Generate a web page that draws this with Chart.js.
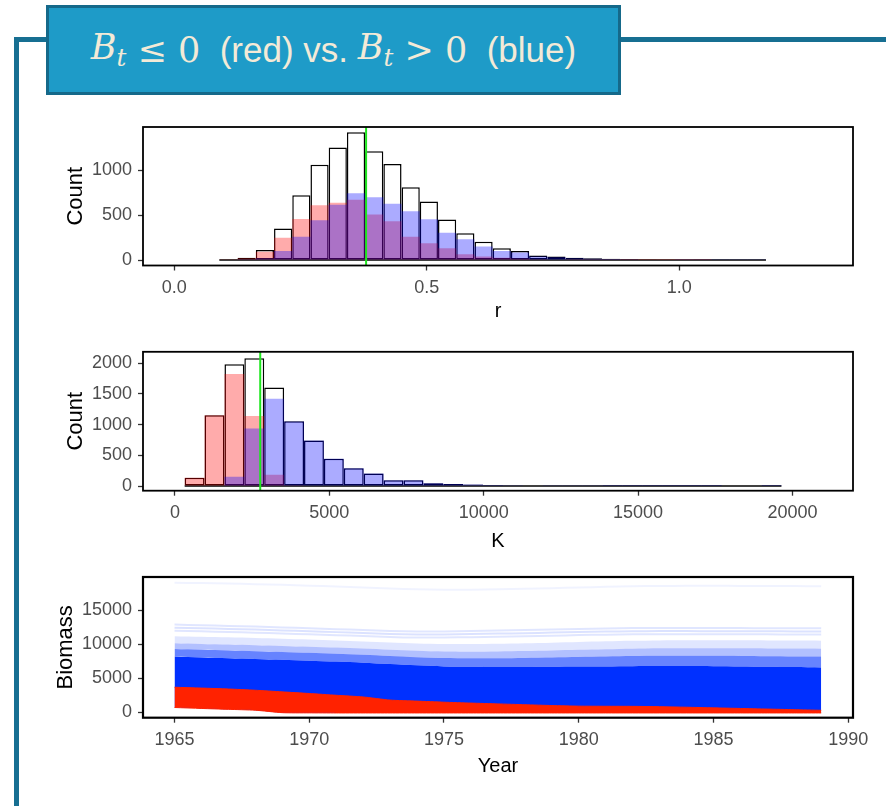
<!DOCTYPE html>
<html>
<head>
<meta charset="utf-8">
<script src="https://cdn.jsdelivr.net/npm/chart.js@4.4.1/dist/chart.umd.min.js"></script>
<style>
  body { margin: 0; width: 886px; height: 806px; background: #fff; position: relative; overflow: hidden;
         font-family: "Liberation Sans", Arial, sans-serif; }
  .frame-v { position: absolute; left: 14px; top: 37px; width: 5px; height: 790px; background: #176f92; }
  .frame-h { position: absolute; left: 14px; top: 37px; width: 872px; height: 5px; background: #176f92; }
  #titlebox { position: absolute; left: 46px; top: 5px; width: 569px; height: 84px; background: #1e9bc8;
              border: 3px solid #15698a; color: #f3ead7; font-size: 35px; display: flex;
              align-items: center; justify-content: center; white-space: pre; }
  .m { font-family: "DejaVu Serif", serif; font-style: italic; }
  .s { font-family: "DejaVu Serif", serif; }
  sub { font-size: 0.7em; vertical-align: -0.3em; }
  canvas { position: absolute; left: 0; }
</style>
</head>
<body>
<div class="frame-v"></div>
<div class="frame-h"></div>
<div id="titlebox"><span class="m">B<sub>t</sub></span><span class="s"> ≤ 0</span>  (red) vs. <span class="m">B<sub>t</sub></span><span class="s"> &gt; 0</span>  (blue)</div>
<canvas id="c1" width="886" height="220" style="top:110px"></canvas>
<canvas id="c2" width="886" height="220" style="top:335px"></canvas>
<canvas id="c3" width="886" height="246" style="top:560px"></canvas>
<script>
// r histogram (bin midpoints, counts)
const rBins = [0.1072, 0.1433, 0.1794, 0.2155, 0.2516, 0.2876, 0.3237, 0.3598, 0.3959, 0.4320,
               0.4681, 0.5041, 0.5402, 0.5763, 0.6124, 0.6485, 0.6846, 0.7206, 0.7567, 0.7928,
               0.8289, 0.8650, 0.9011, 0.9371, 0.9732, 1.0093, 1.0454, 1.0815, 1.1176, 1.1536];
const rTotal = [5, 25, 113, 351, 721, 1058, 1249, 1421, 1209, 1066, 809, 652, 450, 297, 205,
                132, 102, 51, 40, 25, 20, 15, 11, 9, 8, 6, 5, 4, 4, 3];
const rRed = [5, 20, 93, 249, 457, 608, 637, 670, 505, 432, 260, 187, 132, 66, 40,
              25, 18, 10, 8, 5, 4, 3, 2, 2, 1, 1, 1, 0, 0, 0];
const rBlue = [0, 5, 20, 102, 260, 443, 615, 743, 699, 626, 542, 454, 303, 231, 150,
               102, 84, 41, 32, 20, 16, 12, 9, 7, 7, 5, 4, 4, 4, 3];
const rMark = 0.3798;
const rTicks = [0, 0.5, 1.0];
const rTickLabels = ["0.0", "0.5", "1.0"];
const rCountTicks = [0, 500, 1000];

// K histogram
const kBins = [636, 1280, 1925, 2569, 3213, 3858, 4502, 5146, 5791, 6435,
               7079, 7724, 8368, 9012, 9656, 10301, 10945, 11589, 12234, 12878,
               13522, 14167, 14811, 15455, 16099, 16744, 17388, 18032, 18677, 19321];
const kTotal = [135, 1153, 1983, 2080, 1603, 1056, 740, 445, 290, 204, 97, 95, 48, 32, 25,
                18, 12, 10, 6, 5, 4, 3, 2, 2, 1, 1, 1, 0, 0, 1];
const kRed = [135, 1153, 1823, 1142, 183, 5, 0, 0, 0, 0, 0, 0, 0, 0, 0,
              0, 0, 0, 0, 0, 0, 0, 0, 0, 0, 0, 0, 0, 0, 0];
const kBlue = [0, 0, 151, 939, 1421, 1051, 740, 445, 290, 204, 97, 95, 48, 32, 25,
               18, 12, 10, 6, 5, 4, 3, 2, 2, 1, 1, 1, 0, 0, 1];
const kMark = 2762;
const kTicks = [0, 5000, 10000, 15000, 20000];
const kCountTicks = [0, 500, 1000, 1500, 2000];

// biomass trajectories (envelopes and a few single runs)
const years = [1965, 1966, 1967, 1968, 1969, 1970, 1971, 1972, 1973, 1974, 1975, 1976, 1977,
               1978, 1979, 1980, 1981, 1982, 1983, 1984, 1985, 1986, 1987, 1988, 1989];
const redLow = [700, 560, 430, 300, -60, -90, -100, -100, -100, -100, -100, -100, -100,
                -100, -100, -100, -100, -100, -100, -100, -100, -100, -100, -100, -100];
const redHigh = [3680, 3560, 3420, 3240, 3000, 2760, 2500, 2250, 1790, 1640, 1480, 1350, 1230,
                 1110, 990, 900, 880, 870, 820, 740, 650, 560, 470, 380, 290];
const blueSolid = [8150, 8050, 7950, 7840, 7720, 7590, 7450, 7300, 7100, 6900, 6750, 6680, 6650,
                   6660, 6690, 6720, 6750, 6780, 6790, 6790, 6780, 6750, 6700, 6650, 6600];
const blueMid = [9300, 9200, 9100, 8990, 8870, 8740, 8600, 8450, 8270, 8100, 7980, 7950, 7960,
                 8000, 8060, 8130, 8200, 8260, 8300, 8310, 8300, 8280, 8250, 8220, 8200];
const blueLight = [10150, 10060, 9970, 9870, 9760, 9640, 9510, 9370, 9200, 9040, 8930, 8920, 8950,
                   9010, 9090, 9180, 9270, 9350, 9400, 9420, 9420, 9410, 9390, 9370, 9350];
const bluePale = [11200, 11110, 11020, 10920, 10810, 10690, 10560, 10420, 10260, 10120, 10040, 10040, 10080,
                  10150, 10240, 10340, 10440, 10520, 10570, 10590, 10590, 10580, 10570, 10550, 10530];
const blueRunA = [12900, 12800, 12700, 12600, 12480, 12360, 12230, 12100, 11950, 11880, 11900, 11960, 12030,
                  12100, 12180, 12260, 12330, 12380, 12400, 12400, 12390, 12380, 12370, 12360, 12350];
const blueRunB = [12450, 12360, 12260, 12160, 12040, 11920, 11790, 11660, 11510, 11440, 11450, 11500, 11570,
                  11640, 11720, 11800, 11870, 11920, 11940, 11940, 11930, 11920, 11910, 11900, 11890];
const blueRunC = [12000, 11910, 11810, 11710, 11590, 11470, 11340, 11210, 11060, 10990, 11000, 11050, 11120,
                  11190, 11270, 11350, 11420, 11470, 11490, 11490, 11480, 11470, 11460, 11450, 11440];
const blueRunTop = [19050, 19000, 18930, 18850, 18750, 18630, 18500, 18360, 18200, 18080, 18020, 18030, 18090,
                    18170, 18260, 18360, 18450, 18530, 18580, 18600, 18600, 18590, 18580, 18560, 18540];
const yearTicks = [1965, 1970, 1975, 1980, 1985, 1990];
const biomassTicks = [0, 5000, 10000, 15000];

const FONT = '"Liberation Sans", Arial, sans-serif';
Chart.defaults.font.family = FONT;

const panelBorder = {
  id: 'panelBorder',
  afterDraw(chart, args, opts) {
    const { ctx, chartArea: a } = chart;
    ctx.save();
    ctx.strokeStyle = '#000';
    ctx.lineWidth = opts.width || 1.8;
    ctx.strokeRect(a.left, a.top, a.right - a.left, a.bottom - a.top);
    ctx.restore();
  }
};

function xAxis(range, ticks, labels, title, height, titlePad) {
  return {
    type: 'linear', min: range[0], max: range[1], offset: false,
    afterBuildTicks: s => { s.ticks = ticks.map(v => ({ value: v })); },
    afterFit: s => { s.height = height; },
    ticks: { autoSkip: false, maxRotation: 0, padding: 7, color: '#4d4d4d', font: { size: 18 },
             callback: (v, i) => labels[i] },
    grid: { drawOnChartArea: false, drawTicks: true, tickLength: 5, tickColor: '#333', tickWidth: 1.3, offset: false },
    border: { display: false },
    title: { display: true, text: title, color: '#000', font: { size: 20 }, padding: { top: 0, bottom: titlePad } }
  };
}

function yAxis(range, ticks, title, titleX) {
  return {
    type: 'linear', min: range[0], max: range[1],
    afterBuildTicks: s => { s.ticks = ticks.map(v => ({ value: v })); },
    afterFit: s => { s.width = 143; },
    ticks: { padding: 6, color: '#4d4d4d', font: { size: 18 }, callback: v => String(v) },
    grid: { drawOnChartArea: false, drawTicks: true, tickLength: 5, tickColor: '#333', tickWidth: 1.3 },
    border: { display: false },
    title: { display: true, text: title, color: '#000', font: { size: 22 }, padding: { top: titleX - 13.2, bottom: 0 } }
  };
}

function histogram(id, bins, total, red, blue, mark, xr, yr, xTicks, xLabels, yTicks, xTitle, top, xh, titlePad) {
  const pts = vals => bins.map((b, i) => ({ x: b, y: vals[i] }));
  const w = bins[1] - bins[0];
  new Chart(document.getElementById(id), {
    type: 'bar',
    data: {
      datasets: [
        { type: 'line', data: [{ x: mark, y: yr[0] }, { x: mark, y: yr[1] }], borderColor: '#1ee61e',
          borderWidth: 2, pointRadius: 0, order: 0 },
        { data: pts(blue), backgroundColor: 'rgba(0,0,255,0.33)', borderWidth: 0, inflateAmount: 0, order: 1 },
        { data: pts(red), backgroundColor: 'rgba(255,0,0,0.33)', borderWidth: 0, inflateAmount: 0, order: 2 },
        { type: 'line', data: [{ x: bins[0] - w / 2, y: 0 }, { x: bins[bins.length - 1] + w / 2, y: 0 }],
          borderColor: '#000', borderWidth: 1.5, pointRadius: 0, order: 3 },
        { data: pts(total), backgroundColor: '#fff', borderColor: '#000', borderWidth: 1.5,
          borderSkipped: false, inflateAmount: 0, order: 4 }
      ]
    },
    options: {
      responsive: false, animation: false,
      layout: { padding: { left: 0, right: 33, top: top, bottom: 0 } },
      datasets: { bar: { grouped: false, barPercentage: 1, categoryPercentage: 1 } },
      plugins: { legend: { display: false }, tooltip: { enabled: false }, panelBorder: { width: 1.8 } },
      scales: {
        x: xAxis(xr, xTicks, xLabels, xTitle, xh, titlePad),
        y: yAxis(yr, yTicks, 'Count', 75.5)
      }
    },
    plugins: [panelBorder]
  });
}

histogram('c1', rBins, rTotal, rRed, rBlue, rMark, [-0.062, 1.344], [-60, 1478],
          rTicks, rTickLabels, rCountTicks, 'r', 17, 64.5, 6.9);
histogram('c2', kBins, kTotal, kRed, kBlue, kMark, [-1035, 21960], [-75, 2185],
          kTicks, kTicks.map(String), kCountTicks, 'K', 16, 64.3, 1.9);

const BLUE = '0,48,255';
const series = vals => years.map((yr, i) => ({ x: yr, y: vals[i] }));
const band = (vals, fillTo, alpha) => ({
  data: series(vals), fill: fillTo, backgroundColor: `rgba(${BLUE},${alpha})`,
  borderColor: `rgba(${BLUE},${alpha})`, borderWidth: 0, pointRadius: 0, tension: 0.3
});
const run = (vals, alpha) => ({
  data: series(vals), fill: false, borderColor: `rgba(${BLUE},${alpha})`, borderWidth: 2,
  pointRadius: 0, tension: 0.3
});

new Chart(document.getElementById('c3'), {
  type: 'line',
  data: {
    datasets: [
      { data: series(redHigh), fill: 1, backgroundColor: '#ff2200', borderColor: '#ff2200', borderWidth: 1,
        pointRadius: 0, tension: 0.2 },
      { data: series(redLow), fill: false, borderColor: '#ff2200', borderWidth: 1, pointRadius: 0, tension: 0.2 },
      band(blueSolid, 1, 1),
      band(blueMid, 2, 0.6),
      band(blueLight, 3, 0.3),
      band(bluePale, 4, 0.12),
      run(blueRunA, 0.12),
      run(blueRunB, 0.14),
      run(blueRunC, 0.12),
      run(blueRunTop, 0.06)
    ]
  },
  options: {
    responsive: false, animation: false,
    layout: { padding: { left: 0, right: 33, top: 17, bottom: 0 } },
    plugins: { legend: { display: false }, tooltip: { enabled: false }, panelBorder: { width: 2.2 } },
    scales: {
      x: xAxis([1963.83, 1990.18], yearTicks, yearTicks.map(String), 'Year', 88.3, 27.6),
      y: yAxis([-800, 19900], biomassTicks, 'Biomass', 65.5)
    }
  },
  plugins: [panelBorder]
});
</script>
</body>
</html>
